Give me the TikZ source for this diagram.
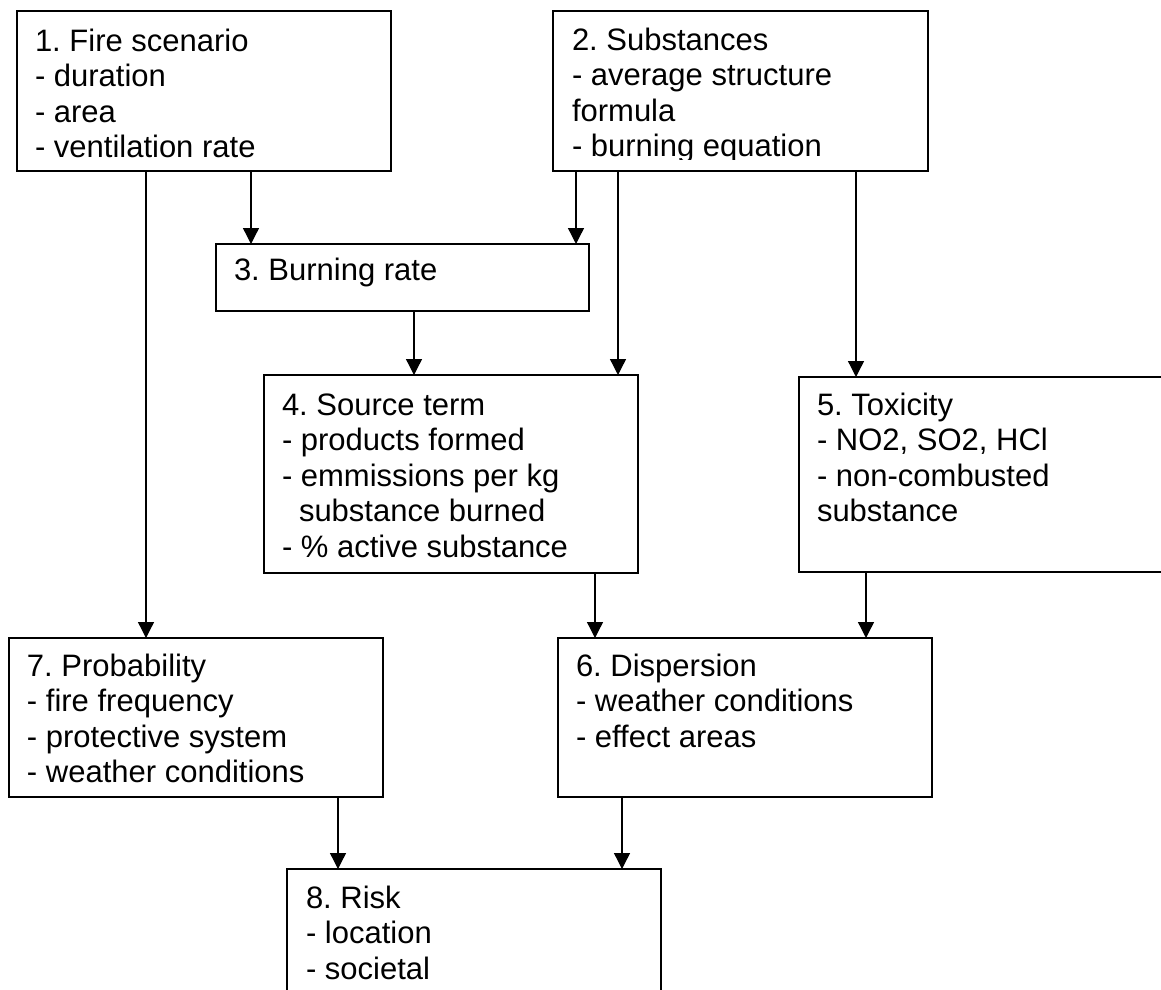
\documentclass[tikz,border=0pt]{standalone}
\usepackage{fontspec}
\setmainfont{Liberation Sans}
\usetikzlibrary{arrows.meta}
\frenchspacing
\begin{document}
\begin{tikzpicture}[x=1pt,y=-1pt,
  boxnode/.style={draw=black, line width=1.3pt, rectangle, anchor=north west, inner sep=0pt, outer sep=0pt},
  txt/.style={anchor=base west, inner sep=0pt, outer sep=0pt, font=\fontsize{31pt}{35.6pt}\selectfont\frenchspacing},
  arr/.style={line width=1.3pt, -{Triangle[length=16pt,width=16pt]}}]
\useasboundingbox (0,0) rectangle (1161,989);
\fill[white] (0,0) rectangle (1161,989);
% boxes
\node[boxnode, minimum width=374pt, minimum height=160pt] (b1) at (17,11) {};
\node[boxnode, minimum width=375pt, minimum height=160pt] (b2) at (553,11) {};
\node[boxnode, minimum width=373pt, minimum height=67pt] (b3) at (216,244) {};
\node[boxnode, minimum width=374pt, minimum height=198pt] (b4) at (264,375) {};
\node[boxnode, minimum width=400pt, minimum height=195pt] (b5) at (799,377) {};
\node[boxnode, minimum width=374pt, minimum height=159pt] (b6) at (558,638) {};
\node[boxnode, minimum width=374pt, minimum height=159pt] (b7) at (9,638) {};
\node[boxnode, minimum width=374pt, minimum height=140pt] (b8) at (287,869) {};
% texts
\node[txt] (t1) at (35,51) {\begin{tabular}[t]{@{}l@{}}1. Fire scenario\\- duration\\- area\\- ventilation rate\end{tabular}};
\begin{scope}
\clip (553,11) rectangle (928,159.5);
\node[txt] (t2) at (572,50) {\begin{tabular}[t]{@{}l@{}}2. Substances\\- average structure\\formula\\- burning equation\end{tabular}};
\end{scope}
\node[txt] (t3) at (234,280) {\begin{tabular}[t]{@{}l@{}}3. Burning rate\end{tabular}};
\node[txt] (t4) at (282,415) {\begin{tabular}[t]{@{}l@{}}4. Source term\\- products formed\\- emmissions per kg\\\hspace*{17pt}substance burned\\- \% active substance\end{tabular}};
\node[txt] (t5) at (817,415) {\begin{tabular}[t]{@{}l@{}}5. Toxicity\\- NO2, SO2, HCl\\- non-combusted\\substance\end{tabular}};
\node[txt] (t6) at (576,676) {\begin{tabular}[t]{@{}l@{}}6. Dispersion\\- weather conditions\\- effect areas\end{tabular}};
\node[txt] (t7) at (27,676) {\begin{tabular}[t]{@{}l@{}}7. Probability\\- fire frequency\\- protective system\\- weather conditions\end{tabular}};
\node[txt] (t8) at (306,908) {\begin{tabular}[t]{@{}l@{}}8. Risk\\- location\\- societal\end{tabular}};
% x positions of connectors
\coordinate (xa) at (146,0);
\coordinate (xb) at (251,0);
\coordinate (xc) at (576,0);
\coordinate (xd) at (414,0);
\coordinate (xe) at (618,0);
\coordinate (xf) at (856,0);
\coordinate (xg) at (595,0);
\coordinate (xh) at (866,0);
\coordinate (xi) at (338,0);
\coordinate (xj) at (622,0);
% connectors
\draw[arr] (b1.south -| xa) -- (b7.north -| xa);
\draw[arr] (b1.south -| xb) -- (b3.north -| xb);
\draw[arr] (b2.south -| xc) -- (b3.north -| xc);
\draw[arr] (b3.south -| xd) -- (b4.north -| xd);
\draw[arr] (b2.south -| xe) -- (b4.north -| xe);
\draw[arr] (b2.south -| xf) -- (b5.north -| xf);
\draw[arr] (b4.south -| xg) -- (b6.north -| xg);
\draw[arr] (b5.south -| xh) -- (b6.north -| xh);
\draw[arr] (b7.south -| xi) -- (b8.north -| xi);
\draw[arr] (b6.south -| xj) -- (b8.north -| xj);
\end{tikzpicture}
\end{document}
